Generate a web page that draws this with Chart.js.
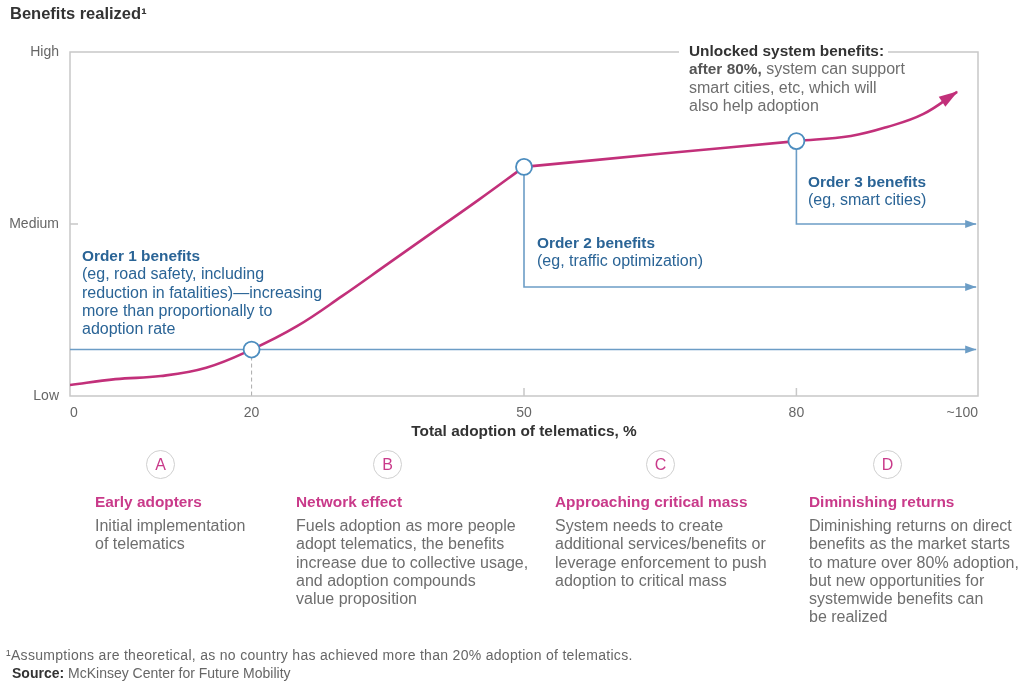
<!DOCTYPE html>
<html>
<head>
<meta charset="utf-8">
<script src="https://cdn.jsdelivr.net/npm/chart.js@4.4.1/dist/chart.umd.min.js"></script>
<style>
  body { margin: 0; background: #fff; font-family: "Liberation Sans", Arial, sans-serif; }
  #wrap { position: relative; width: 1018px; height: 682px; overflow: hidden; }
  #chart { position: absolute; left: 0; top: 0; }
  .t { position: absolute; white-space: nowrap; line-height: 18.3px; font-size: 16px; }
  .b { font-weight: bold; font-size: 15.4px; }
  .blue { color: #2a6496; }
  .grey { color: #6e6e6e; }
  .pink { color: #c93a8a; }
  .badge { position: absolute; width: 27px; height: 27px; border: 1px solid #cfcfcf; border-radius: 50%;
           text-align: center; line-height: 27px; font-size: 16px; color: #c93a8a; }
</style>
</head>
<body>
<div id="wrap">
  <canvas id="chart" width="1018" height="682"></canvas>

  <div class="t b" style="left:10px; top:4px; font-size:16.5px; color:#333;">Benefits realized¹</div>

  <div class="t blue" style="left:82px; top:247px;"><span class="b">Order 1 benefits</span><br>(eg, road safety, including<br>reduction in fatalities)—increasing<br>more than proportionally to<br>adoption rate</div>
  <div class="t blue" style="left:537px; top:234px;"><span class="b">Order 2 benefits</span><br>(eg, traffic optimization)</div>
  <div class="t blue" style="left:808px; top:173px;"><span class="b">Order 3 benefits</span><br>(eg, smart cities)</div>
  <div class="t grey" style="left:689px; top:42px;"><span class="b" style="color:#333">Unlocked system benefits:</span><br><span class="b" style="color:#555">after 80%,</span> system can support<br>smart cities, etc, which will<br>also help adoption</div>

  <div class="badge" style="left:146px; top:450px;">A</div>
  <div class="badge" style="left:373px; top:450px;">B</div>
  <div class="badge" style="left:646px; top:450px;">C</div>
  <div class="badge" style="left:873px; top:450px;">D</div>

  <div class="t b pink" style="left:95px; top:493px;">Early adopters</div>
  <div class="t b pink" style="left:296px; top:493px;">Network effect</div>
  <div class="t b pink" style="left:555px; top:493px;">Approaching critical mass</div>
  <div class="t b pink" style="left:809px; top:493px;">Diminishing returns</div>

  <div class="t grey" style="left:95px; top:517px;">Initial implementation<br>of telematics</div>
  <div class="t grey" style="left:296px; top:517px;">Fuels adoption as more people<br>adopt telematics, the benefits<br>increase due to collective usage,<br>and adoption compounds<br>value proposition</div>
  <div class="t grey" style="left:555px; top:517px;">System needs to create<br>additional services/benefits or<br>leverage enforcement to push<br>adoption to critical mass</div>
  <div class="t grey" style="left:809px; top:517px;">Diminishing returns on direct<br>benefits as the market starts<br>to mature over 80% adoption,<br>but new opportunities for<br>systemwide benefits can<br>be realized</div>

  <div class="t" style="left:6px; top:646px; font-size:14px; color:#666; letter-spacing:0.3px;">¹Assumptions are theoretical, as no country has achieved more than 20% adoption of telematics.</div>
  <div class="t" style="left:12px; top:664px; font-size:14px; color:#666;"><b style="color:#333">Source:</b> McKinsey Center for Future Mobility</div>
</div>

<script>
// benefit curve (x = adoption %, y = benefit, Low=0 Medium=50 High=100)
const adoptionRise = [0, 5, 10, 15, 20, 25, 30, 35, 40, 45, 50];
const benefitRise = [3.2, 4.9, 5.8, 8.2, 13.5, 20.3, 29.1, 38.4, 47.7, 57.0, 66.6];
const adoptionPlateau = [50, 65, 80, 86, 90, 94, 97.7];
const benefitPlateau = [66.6, 70.4, 74.1, 75.6, 78.2, 82.0, 88.4];

// milestone circles and the level each "order" arrow runs at
const milestoneAdoption = [20, 50, 80];
const milestoneBenefit = [13.5, 66.6, 74.1];
const orderLevel = [13.5, 31.7, 50];
const arrowEnd = 99.8;

const xTickValues = [0, 20, 50, 80, 100];
const xTickLabels = ['0', '20', '50', '80', '~100'];
const yTickValues = [0, 50, 100];
const yTickLabels = ['Low', 'Medium', 'High'];

const curveColor = '#c2307a';
const blueLine = '#6c9dc6';

const pts = (xs, ys) => xs.map((x, i) => ({ x: x, y: ys[i] }));

const orderPaths = [
    [{ x: 0, y: orderLevel[0] }, { x: arrowEnd, y: orderLevel[0] }],
    [{ x: milestoneAdoption[1], y: milestoneBenefit[1] }, { x: milestoneAdoption[1], y: orderLevel[1] }, { x: arrowEnd, y: orderLevel[1] }],
    [{ x: milestoneAdoption[2], y: milestoneBenefit[2] }, { x: milestoneAdoption[2], y: orderLevel[2] }, { x: arrowEnd, y: orderLevel[2] }]
];

const decorations = {
    id: 'decorations',
    beforeDatasetsDraw(chart) {
        const { ctx, chartArea: a, scales: { x, y } } = chart;
        ctx.save();
        ctx.strokeStyle = '#c8c8c8';
        ctx.lineWidth = 1.5;
        ctx.beginPath();
        ctx.moveTo(679, a.top);
        ctx.lineTo(a.left, a.top);
        ctx.lineTo(a.left, a.bottom);
        ctx.lineTo(a.right, a.bottom);
        ctx.lineTo(a.right, a.top);
        ctx.lineTo(888, a.top);
        // small inner ticks
        const my = y.getPixelForValue(50);
        ctx.moveTo(a.left, my);
        ctx.lineTo(a.left + 8, my);
        [50, 80].forEach(v => {
            const px = x.getPixelForValue(v);
            ctx.moveTo(px, a.bottom);
            ctx.lineTo(px, a.bottom - 8);
        });
        ctx.stroke();
        ctx.restore();
    },
    afterDatasetsDraw(chart) {
        const { ctx, scales: { x, y } } = chart;
        ctx.save();
        // arrowheads on the order lines
        ctx.fillStyle = blueLine;
        orderLevel.forEach(lv => {
            const tx = x.getPixelForValue(arrowEnd), ty = y.getPixelForValue(lv);
            ctx.beginPath();
            ctx.moveTo(tx, ty);
            ctx.lineTo(tx - 11, ty - 4);
            ctx.lineTo(tx - 11, ty + 4);
            ctx.closePath();
            ctx.fill();
        });
        // arrowhead on the benefit curve
        const els = chart.getDatasetMeta(2).data;
        const p1 = els[els.length - 2], p2 = els[els.length - 1];
        let dx = p2.x - p1.x, dy = p2.y - p1.y;
        const len = Math.hypot(dx, dy);
        dx /= len; dy /= len;
        const bx = p2.x - dx * 18, by = p2.y - dy * 18;
        ctx.fillStyle = curveColor;
        ctx.beginPath();
        ctx.moveTo(p2.x + dx * 1, p2.y + dy * 1);
        ctx.lineTo(bx - dy * 6, by + dx * 6);
        ctx.lineTo(bx + dy * 6, by - dx * 6);
        ctx.closePath();
        ctx.fill();
        ctx.restore();
    }
};

Chart.defaults.font.family = '"Liberation Sans", Arial, sans-serif';

new Chart(document.getElementById('chart'), {
    type: 'line',
    data: {
        datasets: [
            {
                label: 'milestones',
                data: pts(milestoneAdoption, milestoneBenefit),
                showLine: false,
                pointRadius: 8,
                pointBackgroundColor: '#fff',
                pointBorderColor: '#4c8dbf',
                pointBorderWidth: 1.8,
                order: 0
            },
            {
                label: 'rise',
                data: pts(adoptionRise, benefitRise),
                borderColor: curveColor,
                borderWidth: 2.6,
                pointRadius: 0,
                tension: 0.4,
                order: 1
            },
            {
                label: 'plateau',
                data: pts(adoptionPlateau, benefitPlateau),
                borderColor: curveColor,
                borderWidth: 2.6,
                pointRadius: 0,
                tension: 0.4,
                order: 1
            },
            {
                label: 'order 1',
                data: orderPaths[0],
                borderColor: blueLine,
                borderWidth: 1.6,
                pointRadius: 0,
                order: 2
            },
            {
                label: 'order 2',
                data: orderPaths[1],
                borderColor: blueLine,
                borderWidth: 1.6,
                pointRadius: 0,
                order: 2
            },
            {
                label: 'order 3',
                data: orderPaths[2],
                borderColor: blueLine,
                borderWidth: 1.6,
                pointRadius: 0,
                order: 2
            },
            {
                label: 'drop',
                data: [{ x: milestoneAdoption[0], y: milestoneBenefit[0] }, { x: milestoneAdoption[0], y: 0 }],
                borderColor: '#aaaaaa',
                borderWidth: 1,
                borderDash: [4, 3],
                pointRadius: 0,
                order: 3
            }
        ]
    },
    options: {
        responsive: false,
        animation: false,
        events: [],
        layout: { padding: { top: 52, right: 40, bottom: 237, left: 0 } },
        scales: {
            x: {
                type: 'linear',
                min: 0,
                max: 100,
                grid: { display: false, drawTicks: false },
                border: { display: false },
                afterFit: s => { s.height = 49; },
                afterBuildTicks: s => { s.ticks = xTickValues.map(v => ({ value: v })); },
                ticks: {
                    padding: 9,
                    align: 'inner',
                    maxRotation: 0,
                    color: '#666',
                    font: { size: 14 },
                    callback: v => xTickLabels[xTickValues.indexOf(v)]
                },
                title: {
                    display: true,
                    text: 'Total adoption of telematics, %',
                    color: '#333',
                    font: { size: 15.4, weight: 'bold' }
                }
            },
            y: {
                min: 0,
                max: 100,
                grid: { display: false, drawTicks: false },
                border: { display: false },
                afterFit: s => { s.width = 70; },
                afterBuildTicks: s => { s.ticks = yTickValues.map(v => ({ value: v })); },
                ticks: {
                    padding: 11,
                    color: '#666',
                    font: { size: 14 },
                    callback: v => yTickLabels[yTickValues.indexOf(v)]
                }
            }
        },
        plugins: {
            legend: { display: false },
            tooltip: { enabled: false }
        }
    },
    plugins: [decorations]
});
</script>
</body>
</html>
